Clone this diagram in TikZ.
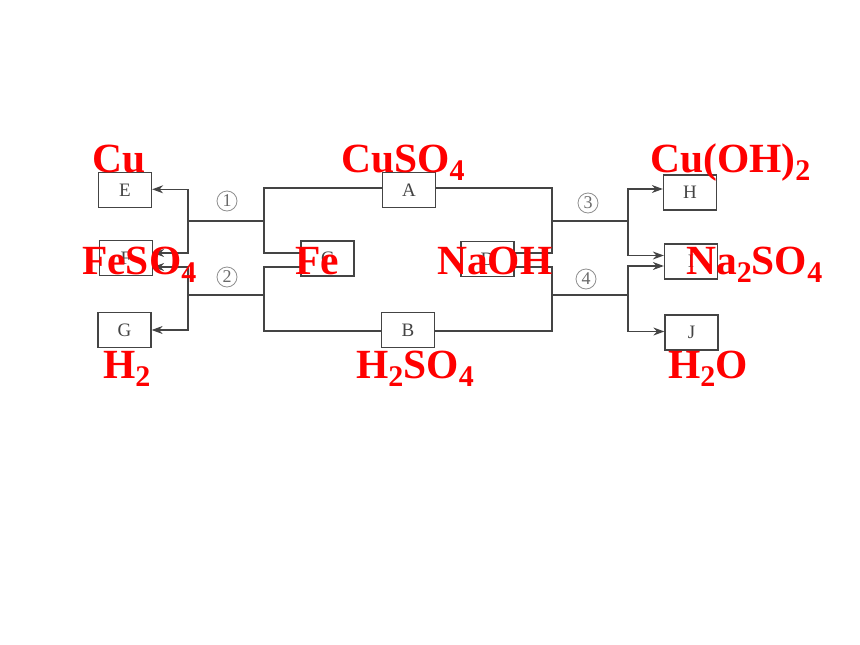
\documentclass[tikz,border=0pt]{standalone}
\usepackage{fontspec}
\setmainfont{Liberation Serif}
\usetikzlibrary{arrows.meta}
\definecolor{wire}{HTML}{444444}
\definecolor{redtext}{HTML}{FF0000}
\newcommand{\sbs}[1]{\raisebox{-0.2em}{\fontsize{30}{30}\selectfont #1}}
\tikzset{
    box/.style={draw=wire, line width=1.3pt, minimum width=53pt, minimum height=35pt, inner sep=0pt, text=wire, font=\fontsize{19}{19}\selectfont},
    wirepath/.style={draw=wire, line width=1.2pt},
    arrowpath/.style={wirepath, -{Stealth[length=11pt,width=8pt]}},
    number/.style={text=wire!80, inner sep=0pt, circle, draw=wire!60, line width=0.8pt, minimum size=20pt, font=\fontsize{18}{18}\selectfont},
    chem/.style={text=redtext, anchor=base west, inner sep=0pt, font=\fontsize{41.5}{41.5}\selectfont\bfseries}
}
\begin{document}
\begin{tikzpicture}[x=1pt, y=-1pt]
\useasboundingbox (0,0) rectangle (860,645);

\node[box] (E) at (125,190) {E};
\node[box] (F) at (126,258) {F};
\node[box] (G) at (124.5,330) {G};
\node[box] (A) at (409,190) {A};
\node[box] (B) at (408,330) {B};
\node[box] (C) at (327.5,258.5) {C};
\node[box] (D) at (487.5,259) {D};
\node[box] (H) at (690,192.5) {H};
\node[box] (I) at (691,261.5) {I};
\node[box] (J) at (691.5,332.5) {J};

\node[number] (n1) at (227,201) {1};
\node[number] (n2) at (227,277) {2};
\node[number] (n3) at (588,203) {3};
\node[number] (n4) at (586,279) {4};

% junctions
\coordinate (l1) at (188,221);
\coordinate (l2) at (188,295);
\coordinate (m1) at (264,221);
\coordinate (m2) at (264,295);
\coordinate (s1) at (552,221);
\coordinate (s2) at (552,295);
\coordinate (r1) at (628,221);
\coordinate (r2) at (628,295);

% side points on the boxes
\coordinate (Ea) at ([yshift=0.7pt]E.east);
\coordinate (Fa) at ([yshift=5pt]F.east);
\coordinate (Fb) at ([yshift=-9pt]F.east);
\coordinate (Awest) at ([yshift=2pt]A.west);
\coordinate (Aeast) at ([yshift=2pt]A.east);
\coordinate (Bwest) at ([yshift=-1pt]B.west);
\coordinate (Beast) at ([yshift=-1pt]B.east);
\coordinate (Ca) at ([yshift=5.5pt]C.west);
\coordinate (Cb) at ([yshift=-8.5pt]C.west);
\coordinate (Da) at ([yshift=6pt]D.east);
\coordinate (Db) at ([yshift=-8pt]D.east);
\coordinate (Ha) at ([yshift=3.5pt]H.west);
\coordinate (Ia) at ([yshift=6pt]I.west);
\coordinate (Ib) at ([yshift=-4.5pt]I.west);
\coordinate (Ja) at ([yshift=1pt]J.west);

\draw[wirepath]
    (l1) -- (m1)
    (l2) -- (m2)
    (s1) -- (r1)
    (s2) -- (r2)
    (Awest) -| (m1)
    (m1) |- (Ca)
    (Cb) -| (m2)
    (m2) |- (Bwest)
    (Aeast) -| (s1)
    (s1) |- (Da)
    (Db) -| (s2)
    (s2) |- (Beast)
    ;
\draw[arrowpath] (l1) |- (Ea);
\draw[arrowpath] (l1) |- (Fa);
\draw[arrowpath] (l2) |- (Fb);
\draw[arrowpath] (l2) |- (G.east);
\draw[arrowpath] (r1) |- (Ha);
\draw[arrowpath] (r1) |- (Ia);
\draw[arrowpath] (r2) |- (Ib);
\draw[arrowpath] (r2) |- (Ja);

\node[chem] (tE) at (92,172) {Cu};
\node[chem] (tA) at (341,172) {CuSO\sbs{4}};
\node[chem] (tH) at (650,172) {Cu(OH)\sbs{2}};
\node[chem] (tF) at (82,274) {FeSO\sbs{4}};
\node[chem] (tC) at (295,274) {Fe};
\node[chem] (tD) at (437,274) {NaOH};
\node[chem] (tI) at (686,274) {Na\sbs{2}SO\sbs{4}};
\node[chem] (tG) at (103,378) {H\sbs{2}};
\node[chem] (tB) at (356,378) {H\sbs{2}SO\sbs{4}};
\node[chem] (tJ) at (668,378) {H\sbs{2}O};
\end{tikzpicture}
\end{document}
